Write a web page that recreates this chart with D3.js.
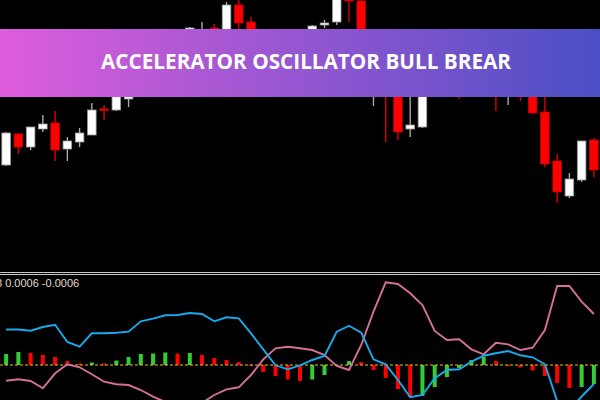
<!DOCTYPE html>
<html>
<head>
<meta charset="utf-8">
<script src="https://cdnjs.cloudflare.com/ajax/libs/d3/7.8.5/d3.min.js"></script>
<style>
  html, body { margin: 0; padding: 0; background: #000; overflow: hidden; }
</style>
</head>
<body>
<div id="chart"></div>
<script>
// price candles (OHLC)
const opens = [1.1835, 1.1866, 1.1853, 1.1871, 1.1877, 1.1851, 1.1858, 1.1865, 1.1891, 1.1890,
  1.1901, 1.1912, 1.1930, 1.1922, 1.1944, 1.1955, 1.1960, 1.1972, 1.1950, 1.1995,
  1.1978, 1.1955, 1.1934, 1.1948, 1.1942, 1.1960, 1.1975, 1.1978, 1.2002, 1.1999,
  1.1922, 1.1938, 1.1915, 1.1871, 1.1873, 1.1925, 1.1915, 1.1930, 1.1912, 1.1928,
  1.1940, 1.1912, 1.1930, 1.1920, 1.1888, 1.1839, 1.1804, 1.1820, 1.1860];
const highs = [1.1868, 1.1867, 1.1873, 1.1885, 1.1889, 1.1863, 1.1872, 1.1897, 1.1895, 1.1912,
  1.1920, 1.1936, 1.1938, 1.1950, 1.1965, 1.1973, 1.1978, 1.1976, 1.1998, 1.2002,
  1.1983, 1.1960, 1.1955, 1.1952, 1.1968, 1.1975, 1.1980, 1.2006, 1.2004, 1.2000,
  1.1948, 1.1942, 1.1920, 1.1912, 1.1930, 1.1935, 1.1938, 1.1935, 1.1934, 1.1948,
  1.1945, 1.1935, 1.1938, 1.1925, 1.1910, 1.1846, 1.1827, 1.1859, 1.1862];
const lows = [1.1834, 1.1846, 1.1850, 1.1868, 1.1839, 1.1839, 1.1853, 1.1865, 1.1880, 1.1889,
  1.1893, 1.1908, 1.1916, 1.1918, 1.1940, 1.1950, 1.1954, 1.1948, 1.1945, 1.1967,
  1.1948, 1.1925, 1.1928, 1.1934, 1.1938, 1.1955, 1.1972, 1.1975, 1.1978, 1.1915,
  1.1894, 1.1858, 1.1860, 1.1863, 1.1872, 1.1908, 1.1910, 1.1901, 1.1906, 1.1922,
  1.1889, 1.1895, 1.1899, 1.1886, 1.1833, 1.1797, 1.1802, 1.1818, 1.1823];
const closes = [1.1867, 1.1853, 1.1873, 1.1876, 1.1850, 1.1859, 1.1867, 1.1890, 1.1890, 1.1908,
  1.1915, 1.1930, 1.1922, 1.1945, 1.1960, 1.1972, 1.1970, 1.1955, 1.1995, 1.1977,
  1.1955, 1.1932, 1.1948, 1.1940, 1.1964, 1.1974, 1.1977, 1.2004, 1.1999, 1.1920,
  1.1940, 1.1910, 1.1868, 1.1875, 1.1925, 1.1915, 1.1930, 1.1910, 1.1928, 1.1940,
  1.1915, 1.1930, 1.1920, 1.1887, 1.1836, 1.1808, 1.1821, 1.1859, 1.1830];

// accelerator oscillator histogram
const acValues = [0.00011, 0.00013, 0.00012, 0.00010, 0.00008, 0.00004, 0.000015, 0.000025, 0.000015, 0.000045,
  0.00008, 0.00011, 0.000115, 0.000125, 0.000115, 0.00012, 0.0001, 0.00007, 0.00005, 0.00003,
  -0.00001, -0.00007, -0.00011, -0.000145, -0.00016, -0.000145, -0.0001, -0.00001, 0.00004, 0.00003,
  -0.00005, -0.00013, -0.00024, -0.00032, -0.00031, -0.00022, -0.00012, -0.00003, 0.00005, 0.00008,
  0.00004, -0.00001, -0.000025, -0.000055, -0.00011, -0.00018, -0.00023, -0.00022, -0.00019];

// bull line (blue) and bear line (pink)
const bullLine = [0.000355, 0.000355, 0.000343, 0.00038, 0.000403, 0.00023, 0.000183, 0.000317, 0.000317, 0.000323,
  0.000333, 0.000437, 0.000463, 0.000497, 0.0005, 0.00052, 0.00051, 0.000437, 0.000477, 0.000467,
  0.000317, 0.000157, -0.000003, -0.000043, -0.000003, 0.00005, 0.00009, 0.000333, 0.000393, 0.000323,
  0.000057, 0.000007, -0.00015, -0.000323, -0.0003, -0.000133, -0.00005, -0.000043, 0.000033, 0.000093,
  0.000117, 0.00014, 0.000097, 0.000077, 0.000007, -0.00036, -0.00045, -0.000315, -0.00019];
const bearLine = [-0.000157, -0.000143, -0.00016, -0.000233, -0.000083, 0.000007, -0.000023, -0.000093, -0.000167, -0.000193,
  -0.0002, -0.00025, -0.000317, -0.00037, -0.0004, -0.00042, -0.00038, -0.0003, -0.000243, -0.000223,
  -0.0001, 0.000057, 0.000167, 0.000183, 0.000167, 0.00015, 0.0001, -0.00001, -0.00005, 0.0002,
  0.000533, 0.000827, 0.00081, 0.000717, 0.0006, 0.00034, 0.00025, 0.000257, 0.000157, 0.000107,
  0.000223, 0.000207, 0.00015, 0.000173, 0.00035, 0.00079, 0.00079, 0.000633, 0.00051];

const title = "ACCELERATOR OSCILLATOR BULL BREAR";
const panelLabel = "3 0.0006 -0.0006";

const width = 600, height = 400;

const svg = d3.select("#chart").append("svg")
    .attr("width", width)
    .attr("height", height)
    .style("display", "block")
    .style("background", "#000");

const idx = d3.range(closes.length);
const x = d3.scaleBand().domain(idx).range([0, width]).paddingInner(0.3).paddingOuter(0.15);
const xc = i => x(i) + x.bandwidth() / 2;

const yPrice = d3.scaleLinear().domain([1.1730, 1.2000]).range([270, 0]);
const yOsc = d3.scaleLinear().domain([-0.00035, 0.00089]).range([400, 276]);

// candles
const candles = svg.append("g").selectAll("g")
    .data(idx)
    .enter().append("g");

candles.append("line")
    .attr("x1", i => xc(i))
    .attr("x2", i => xc(i))
    .attr("y1", i => yPrice(highs[i]))
    .attr("y2", i => yPrice(lows[i]))
    .attr("stroke", i => closes[i] >= opens[i] ? "#a8a8a8" : "#e00000")
    .attr("stroke-width", 1.4);

candles.append("rect")
    .attr("x", i => x(i))
    .attr("width", x.bandwidth())
    .attr("y", i => yPrice(Math.max(opens[i], closes[i])))
    .attr("height", i => Math.max(1.5, Math.abs(yPrice(opens[i]) - yPrice(closes[i]))))
    .attr("fill", i => closes[i] >= opens[i] ? "#ffffff" : "#ff0000")
    .attr("stroke", i => closes[i] >= opens[i] ? "#9a9a9a" : "#c00000")
    .attr("stroke-width", 0.8);

// panel separator
[272.5, 274.5].forEach(yy => {
    svg.append("line")
        .attr("x1", 0).attr("x2", width)
        .attr("y1", yy).attr("y2", yy)
        .attr("stroke", "#c8c8c8")
        .attr("stroke-width", 1);
});

// indicator label, its start runs off the left edge as in the source
svg.append("text")
    .attr("x", -4)
    .attr("y", 287)
    .attr("fill", "#e0dccf")
    .style("font-family", "'Liberation Sans', Arial, sans-serif")
    .style("font-size", "11px")
    .text(panelLabel);

// histogram
svg.append("g").selectAll("rect")
    .data(acValues)
    .enter().append("rect")
    .attr("x", (d, i) => xc(i) - 2)
    .attr("width", 4)
    .attr("y", d => yOsc(Math.max(0, d)))
    .attr("height", d => Math.abs(yOsc(d) - yOsc(0)))
    .attr("fill", (d, i) => (i === 0 || d > acValues[i - 1]) ? "#32cd32" : "#ff0000");

// zero line
svg.append("line")
    .attr("x1", 0).attr("x2", width)
    .attr("y1", yOsc(0)).attr("y2", yOsc(0))
    .attr("stroke", "#e8c41a")
    .attr("stroke-width", 1)
    .attr("stroke-dasharray", "3,2");

const line = d3.line()
    .x((d, i) => xc(i))
    .y(d => yOsc(d));

svg.append("path")
    .datum(bearLine)
    .attr("d", line)
    .attr("fill", "none")
    .attr("stroke", "#d4709a")
    .attr("stroke-width", 1.9);

svg.append("path")
    .datum(bullLine)
    .attr("d", line)
    .attr("fill", "none")
    .attr("stroke", "#16aaee")
    .attr("stroke-width", 1.9);

// title banner
const grad = svg.append("defs").append("linearGradient")
    .attr("id", "bannerGrad")
    .attr("x1", "0%").attr("x2", "100%")
    .attr("y1", "0%").attr("y2", "0%");
grad.append("stop").attr("offset", "0%").attr("stop-color", "#de5ddc");
grad.append("stop").attr("offset", "100%").attr("stop-color", "#4b4fc5");

svg.append("rect")
    .attr("x", 0).attr("y", 29)
    .attr("width", width).attr("height", 68)
    .attr("fill", "url(#bannerGrad)");

svg.append("text")
    .attr("x", 306)
    .attr("y", 68.5)
    .attr("text-anchor", "middle")
    .attr("fill", "#ffffff")
    .attr("textLength", 410)
    .attr("lengthAdjust", "spacingAndGlyphs")
    .style("font-family", "'Open Sans', sans-serif")
    .style("font-weight", "700")
    .style("font-size", "22px")
    .text(title);
</script>
</body>
</html>
